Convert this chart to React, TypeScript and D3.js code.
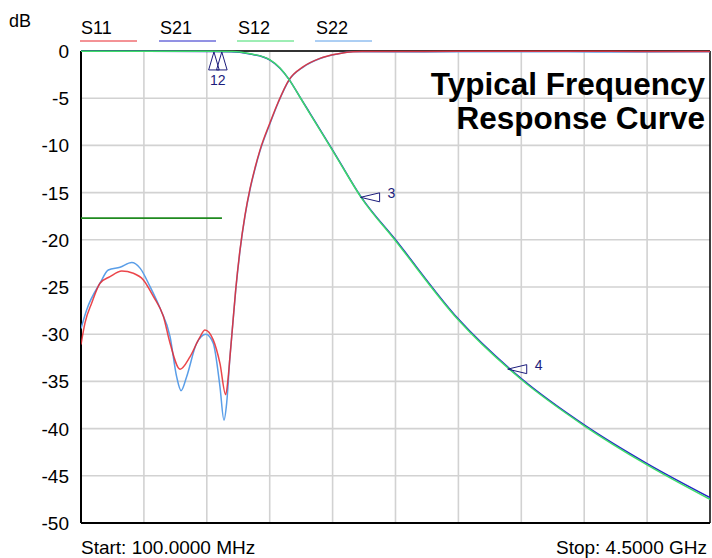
import React from 'react';
import * as d3 from 'd3';

const W = 712;
const H = 558;
const PLOT = { left: 81, right: 710, top: 51, bottom: 523 };

const FONT = '"Liberation Sans", Arial, sans-serif';

// frequency axis (MHz)
const fStart = 100;
const fStop = 4500;
const xDivisions = 10;

const yTicks = [0, -5, -10, -15, -20, -25, -30, -35, -40, -45, -50];
const yTickLabels = ['0', '-5', '-10', '-15', '-20', '-25', '-30', '-35', '-40', '-45', '-50'];

const legendNames = ['S11', 'S21', 'S12', 'S22'];
const legendColors = ['#e8262c', '#2424c8', '#3ddc6a', '#5a9ee8'];

// S11 (red)
const freqS11 = [100, 128, 175, 233, 303, 385, 466, 536, 606, 676, 723, 793, 862, 932, 967, 1025, 1072, 1112, 1128, 1142, 1154, 1182, 1212, 1247, 1282, 1317, 1352, 1422, 1480, 1555, 1655, 1772, 1889, 2003, 2500, 3000, 3500, 4000, 4500];
const dbS11 = [-31.1, -28.8, -26.7, -24.6, -23.9, -23.3, -23.55, -24.25, -26.0, -28.1, -30.96, -33.7, -32.4, -30.3, -29.55, -30.6, -33.1, -36.4, -34.8, -32.4, -30.3, -25.3, -21.1, -17.4, -14.6, -12.4, -10.5, -7.6, -5.4, -3.05, -1.66, -0.78, -0.32, -0.07, -0.04, -0.03, -0.02, -0.04, -0.05];

// S22 (light blue)
const freqS22 = [100, 140, 233, 291, 373, 455, 513, 583, 653, 723, 769, 800, 839, 909, 974, 1025, 1072, 1100, 1119, 1142, 1154, 1182, 1212, 1247, 1282, 1317, 1352, 1422, 1480, 1555, 1655, 1772, 1889, 2003, 2500, 3000, 3500, 4000, 4500];
const dbS22 = [-29.4, -27.4, -24.6, -23.2, -22.9, -22.4, -23.0, -24.96, -27.25, -30.26, -34.5, -35.98, -34.5, -30.96, -30.0, -30.96, -35.55, -39.1, -37.3, -32.4, -30.3, -25.4, -21.2, -17.5, -14.7, -12.5, -10.6, -7.7, -5.45, -3.1, -1.7, -0.8, -0.34, -0.09, -0.1, -0.08, -0.09, -0.1, -0.09];

// S12 (green) and S21 (dark blue)
const freqS12 = [100, 1000, 1150, 1212, 1282, 1375, 1422, 1492, 1555, 1632, 1702, 1842, 1898, 2059, 2300, 2740, 3180, 3620, 4060, 4500];
const dbS12 = [-0.02, -0.03, -0.06, -0.1, -0.3, -0.62, -0.95, -1.8, -3.0, -4.9, -6.65, -10.1, -11.5, -15.5, -20.1, -28.5, -34.8, -39.7, -43.85, -47.5];
const dbS21 = [-0.03, -0.04, -0.07, -0.12, -0.32, -0.63, -0.96, -1.82, -3.0, -4.88, -6.6, -10.05, -11.45, -15.45, -20.0, -28.4, -34.7, -39.6, -43.7, -47.3];

// limit line
const limitDb = -17.7;
const limitFreq = [100, 1086];

// markers
const markerFreq = [1030, 1085, 2056, 3085];
const markerDb = [-0.1, -0.1, -15.5, -33.7];

const title1 = 'Typical Frequency';
const title2 = 'Response Curve';
const startLabel = 'Start: 100.0000 MHz';
const stopLabel = 'Stop: 4.5000 GHz';

export default function App() {
  const x = d3.scaleLinear().domain([fStart, fStop]).range([PLOT.left, PLOT.right]);
  const y = d3.scaleLinear().domain([-50, 0]).range([PLOT.bottom, PLOT.top]);

  const path = (f: number[], v: number[]) =>
    d3
      .line<number>()
      .x((_, i) => x(f[i]))
      .y((d) => y(d))
      .curve(d3.curveMonotoneX)(v) || '';

  const xGrid = d3.range(1, xDivisions).map((i) => fStart + ((fStop - fStart) * i) / xDivisions);
  const navy = '#1c1c7c';

  return (
    <svg width={W} height={H} style={{ position: 'absolute', left: 0, top: 0, background: '#fff' }} fontFamily={FONT}>
      <defs>
        <clipPath id="plotclip">
          <rect x={PLOT.left} y={PLOT.top - 2} width={PLOT.right - PLOT.left} height={PLOT.bottom - PLOT.top + 2} />
        </clipPath>
      </defs>
      <rect x={0} y={0} width={W} height={H} fill="#fff" />

      {/* grid */}
      {xGrid.map((f, i) => (
        <line key={'vx' + i} x1={x(f)} x2={x(f)} y1={PLOT.top} y2={PLOT.bottom} stroke="#d2d2d2" strokeWidth={1.6} />
      ))}
      {yTicks.slice(1, -1).map((t, i) => (
        <line key={'hy' + i} x1={PLOT.left} x2={PLOT.right} y1={y(t)} y2={y(t)} stroke="#d2d2d2" strokeWidth={1.6} />
      ))}

      {/* border */}
      <line x1={PLOT.left} x2={PLOT.right} y1={PLOT.top} y2={PLOT.top} stroke="#333" strokeWidth={2} />
      <line x1={PLOT.left} x2={PLOT.left} y1={PLOT.top} y2={PLOT.bottom} stroke="#000" strokeWidth={2} />
      <line x1={PLOT.left} x2={PLOT.right} y1={PLOT.bottom} y2={PLOT.bottom} stroke="#000" strokeWidth={2} />
      <line x1={PLOT.right} x2={PLOT.right} y1={PLOT.top} y2={PLOT.bottom} stroke="#000" strokeWidth={1.5} />

      {/* y labels */}
      {yTicks.map((t, i) => (
        <text key={'yl' + i} x={69} y={y(t) + 7} textAnchor="end" fontSize={19} fill="#000">
          {yTickLabels[i]}
        </text>
      ))}
      <text x={9} y={27} fontSize={18} fill="#000">dB</text>

      {/* legend */}
      {legendNames.map((n, i) => {
        const lx = [81, 160, 238, 316][i];
        return (
          <g key={'lg' + i}>
            <text x={lx} y={34} fontSize={18} fill="#000">{n}</text>
            <line x1={lx - 1} x2={lx + 56} y1={41} y2={41} stroke={legendColors[i]} strokeWidth={1} />
          </g>
        );
      })}

      {/* title */}
      <text x={705} y={95} textAnchor="end" fontSize={31.5} fontWeight="bold" fill="#000">{title1}</text>
      <text x={705} y={129} textAnchor="end" fontSize={31.5} fontWeight="bold" fill="#000">{title2}</text>

      {/* curves */}
      <g clipPath="url(#plotclip)" fill="none" strokeWidth={1.5} strokeLinejoin="round">
        <path d={path(freqS22, dbS22)} stroke={legendColors[3]} />
        <path d={path(freqS11, dbS11)} stroke={legendColors[0]} strokeOpacity={0.85} />
        <path d={path(freqS12, dbS21)} stroke={legendColors[1]} />
        <path d={path(freqS12, dbS12)} stroke={legendColors[2]} />
      </g>

      {/* limit line */}
      <line x1={x(limitFreq[0])} x2={x(limitFreq[1])} y1={y(limitDb)} y2={y(limitDb)} stroke="#1f8a1f" strokeWidth={1.6} />

      {/* markers 1,2 (pointing up) */}
      {[0, 1].map((i) => {
        const mx = x(markerFreq[i]);
        const my = y(markerDb[i]);
        return (
          <path key={'mk' + i} d={`M${mx},${my} L${mx - 5.3},${my + 18} L${mx + 5.3},${my + 18} Z`} fill="none" stroke={navy} strokeWidth={1} />
        );
      })}
      <text x={(x(markerFreq[0]) + x(markerFreq[1])) / 2} y={85} textAnchor="middle" fontSize={14} fill={navy}>12</text>

      {/* markers 3,4 (pointing left) */}
      {[2, 3].map((i) => {
        const mx = x(markerFreq[i]);
        const my = y(markerDb[i]);
        return (
          <g key={'mk' + i}>
            <path d={`M${mx},${my} L${mx + 19},${my - 4.5} L${mx + 19},${my + 4.5} Z`} fill="none" stroke={navy} strokeWidth={1} />
            <text x={mx + 27} y={my + 1} fontSize={14} fill={navy}>{String(i + 1)}</text>
          </g>
        );
      })}

      {/* bottom labels */}
      <text x={81} y={554} fontSize={19} fill="#000">{startLabel}</text>
      <text x={707} y={554} textAnchor="end" fontSize={19} fill="#000">{stopLabel}</text>
    </svg>
  );
}
